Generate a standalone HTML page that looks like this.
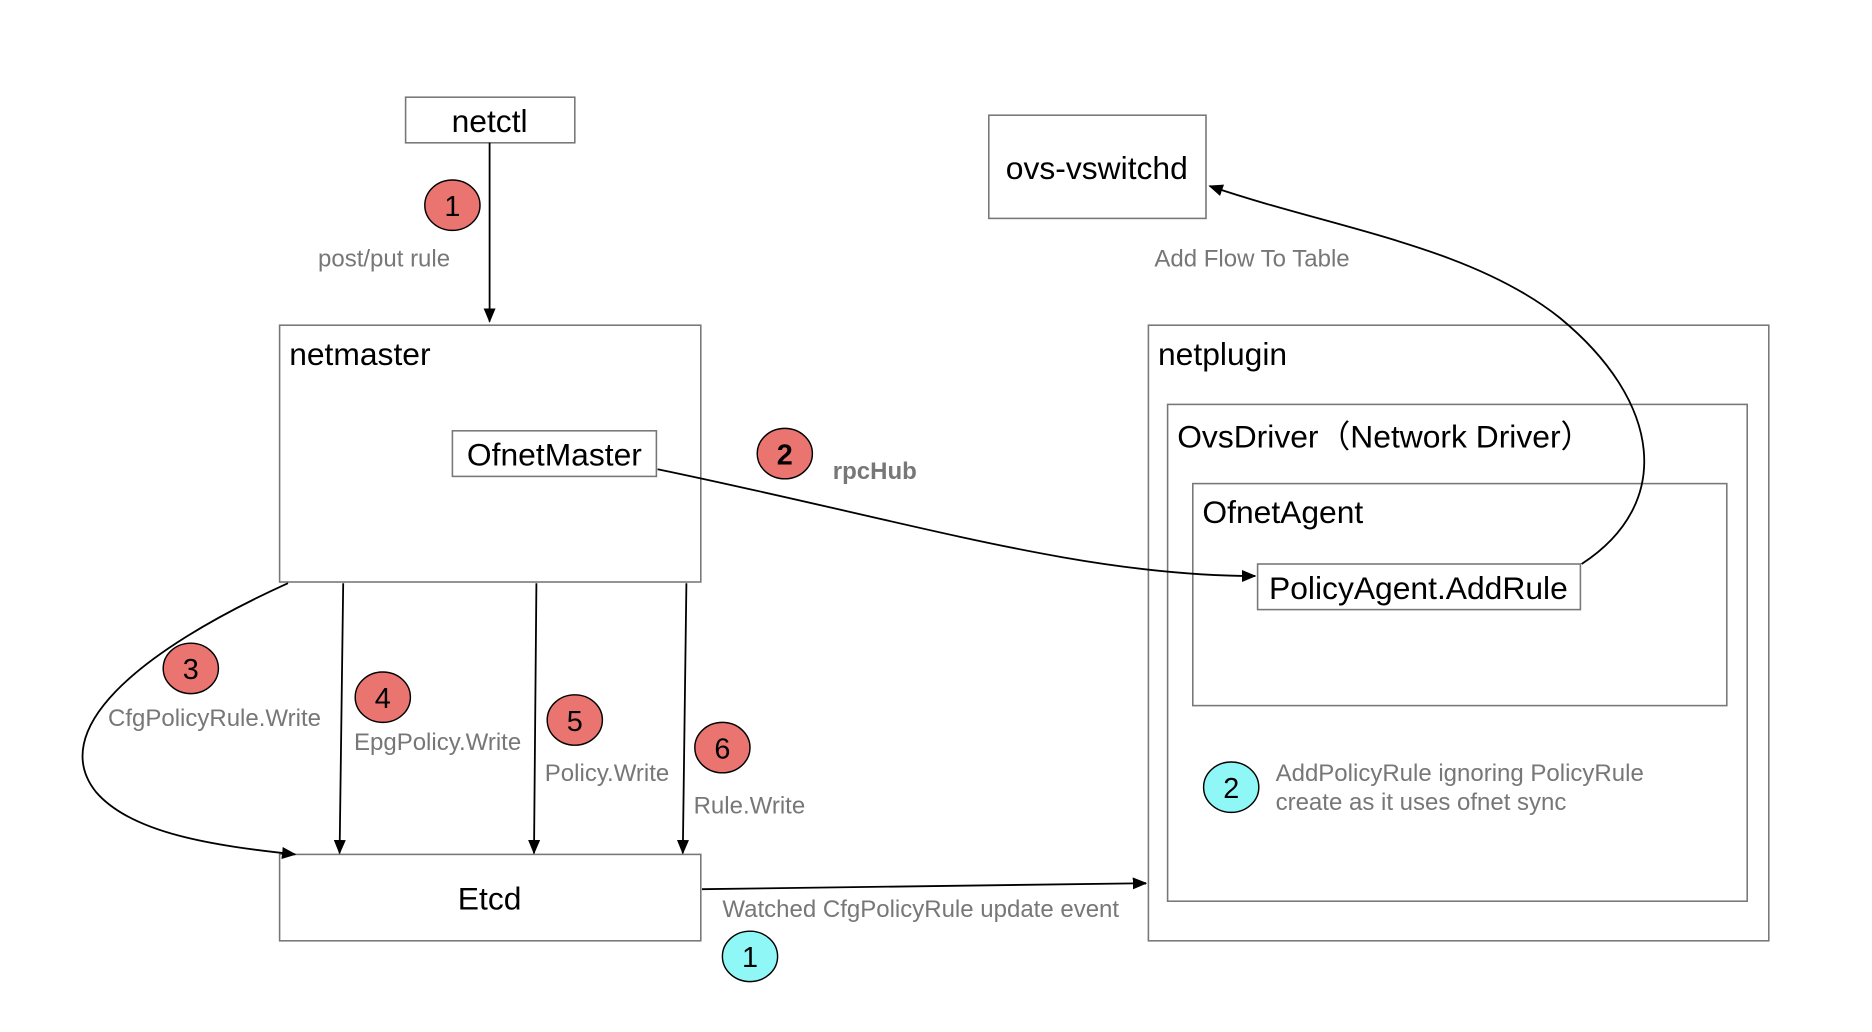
<!DOCTYPE html>
<html><head><meta charset="utf-8"><style>html,body{margin:0;padding:0;background:#fff}svg{display:block}</style></head>
<body>
<svg width="1872" height="1032" viewBox="0 0 1560 860" preserveAspectRatio="none" xmlns="http://www.w3.org/2000/svg" font-family="Liberation Sans, sans-serif">
<defs><marker id="a" markerWidth="12" markerHeight="10" refX="11" refY="5" orient="auto" markerUnits="userSpaceOnUse"><path d="M0,0 L12,5 L0,10 z" fill="#000"/></marker></defs>
<rect width="1560" height="860" fill="#fff"/>
<g fill="#fff" stroke="#777" stroke-width="1.3">
<rect x="338" y="81" width="141" height="38"/>
<rect x="233" y="271" width="351" height="214"/>
<rect x="377" y="359" width="170" height="38"/>
<rect x="824" y="96" width="181" height="86"/>
<rect x="957" y="271" width="517" height="513"/>
<rect x="973" y="337" width="483" height="414"/>
<rect x="994" y="403" width="445" height="185"/>
<rect x="1048" y="470" width="269" height="38"/>
<rect x="233" y="712" width="351" height="72"/>
</g>
<g fill="none" stroke="#000" stroke-width="1.5" marker-end="url(#a)">
<path d="M408,119 L408,268"/>
<path d="M548,391 C760,435 900,480 1046,480"/>
<path d="M1318,470 C1395,420 1385,335 1300,265 C1225,205 1110,190 1008,155"/>
<path d="M286,486 L283,711"/>
<path d="M447,486 L445,711"/>
<path d="M572,486 L569,711"/>
<path d="M240,486 C110,545 40,610 80,660 C110,695 180,705 246,712"/>
<path d="M585,741 L955,736"/>
</g>
<g font-size="26.5" fill="#000">
<text x="408" y="110" text-anchor="middle">netctl</text>
<text x="241" y="304">netmaster</text>
<text x="462" y="388" text-anchor="middle">OfnetMaster</text>
<text x="914" y="149" text-anchor="middle">ovs-vswitchd</text>
<text x="965" y="304">netplugin</text>
<text x="981" y="373">OvsDriver（Network Driver）</text>
<text x="1002" y="436">OfnetAgent</text>
<text x="1182" y="499" text-anchor="middle">PolicyAgent.AddRule</text>
<text x="408" y="758" text-anchor="middle">Etcd</text>
</g>
<g font-size="20" fill="#777">
<text x="265" y="222">post/put rule</text>
<text x="962" y="222">Add Flow To Table</text>
<text x="694" y="399" font-weight="bold">rpcHub</text>
<text x="90" y="605">CfgPolicyRule.Write</text>
<text x="295" y="625">EpgPolicy.Write</text>
<text x="454" y="651">Policy.Write</text>
<text x="578" y="678">Rule.Write</text>
<text x="602" y="764">Watched CfgPolicyRule update event</text>
<text x="1063" y="651">AddPolicyRule ignoring PolicyRule</text>
<text x="1063" y="675">create as it uses ofnet sync</text>
</g>
<g stroke="#000" stroke-width="1.2">
<ellipse cx="377" cy="171" rx="23" ry="21" fill="#ea7470"/>
<ellipse cx="654" cy="378" rx="23" ry="21" fill="#ea7470"/>
<ellipse cx="159" cy="557" rx="23" ry="21" fill="#ea7470"/>
<ellipse cx="319" cy="581" rx="23" ry="21" fill="#ea7470"/>
<ellipse cx="479" cy="600" rx="23" ry="21" fill="#ea7470"/>
<ellipse cx="602" cy="623" rx="23" ry="21" fill="#ea7470"/>
<ellipse cx="625" cy="797" rx="23" ry="21" fill="#8ff7f5"/>
<ellipse cx="1026" cy="656" rx="23" ry="21" fill="#8ff7f5"/>
</g>
<g font-size="24" text-anchor="middle" fill="#000">
<text x="377" y="180">1</text>
<text x="654" y="387" font-weight="bold">2</text>
<text x="159" y="566">3</text>
<text x="319" y="590">4</text>
<text x="479" y="609">5</text>
<text x="602" y="632">6</text>
<text x="625" y="806">1</text>
<text x="1026" y="665">2</text>
</g>
</svg>
</body></html>
